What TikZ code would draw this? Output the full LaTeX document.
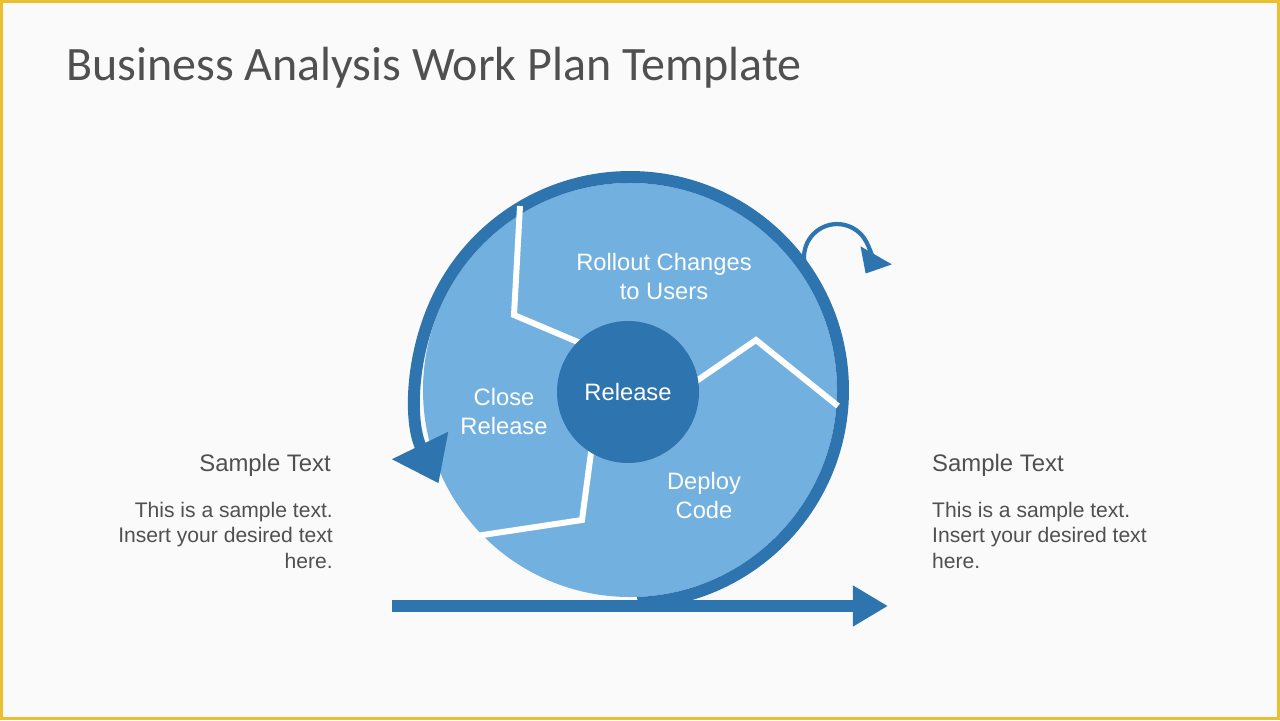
\documentclass[tikz,border=0pt]{standalone}
\usepackage{fontspec}
\setmainfont{Liberation Sans}
\newfontfamily\titlefont{Carlito}
\usetikzlibrary{arrows.meta,calc}
\definecolor{darkblue}{RGB}{46,117,176}
\definecolor{lightblue}{RGB}{114,176,224}
\definecolor{framegold}{RGB}{232,192,48}
\definecolor{greytext}{RGB}{80,80,80}
\begin{document}
\begin{tikzpicture}[x=0.02cm,y=0.02cm]
\tikzstyle{phase} = [text=white, font=\fontsize{13.5}{16.5}\selectfont, align=center]
\tikzstyle{side} = [text=greytext, font=\fontsize{12}{14.5}\selectfont]
\tikzstyle{head} = [text=greytext, font=\fontsize{13.6}{16}\selectfont]
\tikzstyle{divider} = [white, line width=3.4pt, line join=miter]
\tikzstyle{ring} = [darkblue, line width=6.8pt]
%
\fill[framegold] (0,0) rectangle (1280,-720);
\fill[white!98!black] (3,-3) rectangle (1277,-717);
\node (title) [anchor=west, text=greytext, font=\titlefont\fontsize{27.3}{32}\selectfont] at (60,-68) {Business Analysis Work Plan Template};
%
\coordinate (centre) at (630,-390);
\fill[lightblue] (centre) circle (207);
\draw[ring, -{Triangle[width=34pt,length=24pt]}] ($(centre)+(-88:213)$) arc (-88:206:213);
%
\draw[divider] (520,-206) -- (514,-315) -- (585,-345);
\draw[divider] (695,-382) -- (756,-340) -- (838,-406);
\draw[divider] (592,-445) -- (582,-520) -- (476,-536);
\node (release) [circle, fill=darkblue, minimum size=142*0.02cm, phase, inner sep=0pt] at (628,-392) {Release};
%
\node (rollout) [phase] at (664,-277) {Rollout Changes\\to Users};
\node (close)   [phase] at (504,-412) {Close\\Release};
\node (deploy)  [phase] at (704,-496) {Deploy\\Code};
%
\coordinate (loopstart) at (810,-276);
\draw[darkblue, line width=2.4pt, -{Triangle[width=20pt,length=12pt]}] (loopstart) arc (215:-30:33);
%
\coordinate (timestart) at (392,-606);
\coordinate (timeend)   at (888,-606);
\draw[ring, -{Triangle[width=22pt,length=20pt]}] (timestart) -- (timeend);
%
\node (lefthead) [head, anchor=east] at (337,-465) {Sample Text};
\node (lefttext) [side, anchor=north east, align=right] at (339,-496) {This is a sample text.\\Insert your desired text\\here.};
\node (righthead) [head, anchor=west] at (926,-465) {Sample Text};
\node (righttext) [side, anchor=north west, align=left] at (926,-496) {This is a sample text.\\Insert your desired text\\here.};
\end{tikzpicture}
\end{document}
